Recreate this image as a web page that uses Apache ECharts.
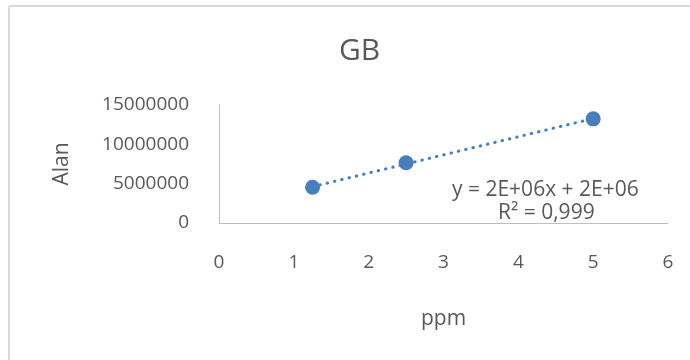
<!DOCTYPE html>
<html>
<head>
<meta charset="utf-8">
<script src="https://cdn.jsdelivr.net/npm/echarts@6/dist/echarts.min.js"></script>
<style>
  html, body { margin: 0; padding: 0; background: #fff; }
  #chart { width: 690px; height: 360px; }
</style>
</head>
<body>
<div id="chart"></div>
<script>
// values
const ppm = [1.25, 2.5, 5];
const alan = [4540000, 7650000, 13240000];
// ends of the dotted trend line (x, y) as drawn
const trendX = [1.25, 5];
const trendY = [4620000, 13280000];
const xTicks = [0, 1, 2, 3, 4, 5, 6];
const yTicks = [0, 5000000, 10000000, 15000000];
const equationText = "y = 2E+06x + 2E+06";
const r2Text = "R² = 0,999";

const textColor = "#595959";
const pointColor = "#4a7ebb";
const fontFamily = "'Open Sans', sans-serif";

const chart = echarts.init(document.getElementById("chart"), null, { renderer: "canvas" });

chart.setOption({
  backgroundColor: "#ffffff",
  animation: false,
  textStyle: { fontFamily },
  title: {
    text: "GB",
    left: 334,
    top: 31,
    textStyle: { color: textColor, fontSize: 30, fontWeight: "normal", fontFamily },
  },
  grid: {
    left: 219,
    right: 22,
    top: 105,
    bottom: 137,
    containLabel: false,
  },
  xAxis: {
    type: "value",
    min: xTicks[0],
    max: xTicks[xTicks.length - 1],
    interval: 1,
    name: "ppm",
    nameLocation: "middle",
    nameGap: 86,
    nameTextStyle: { color: textColor, fontSize: 21, fontFamily },
    axisLine: { show: true, onZero: false, lineStyle: { color: "#bfbfbf", width: 1 } },
    axisTick: { show: false },
    splitLine: { show: false },
    axisLabel: { color: textColor, fontSize: 19, margin: 30, fontFamily },
  },
  yAxis: {
    type: "value",
    min: yTicks[0],
    max: yTicks[yTicks.length - 1],
    interval: 5000000,
    name: "Alan",
    nameLocation: "middle",
    nameRotate: 90,
    nameGap: 146,
    nameTextStyle: { color: textColor, fontSize: 21, fontFamily },
    axisLine: { show: true, lineStyle: { color: "#bfbfbf", width: 1 } },
    axisTick: { show: false },
    splitLine: { show: false },
    axisLabel: {
      color: textColor,
      fontSize: 19,
      margin: 30,
      fontFamily,
      formatter: value => String(value),
    },
  },
  series: [
    {
      name: "trend",
      type: "line",
      data: trendX.map((x, i) => [x, trendY[i]]),
      symbol: "none",
      silent: true,
      lineStyle: { color: pointColor, width: 3, type: [0.5, 7], cap: "round" },
      z: 2,
    },
    {
      name: "Alan",
      type: "scatter",
      data: ppm.map((x, i) => [x, alan[i]]),
      symbolSize: 15,
      itemStyle: { color: pointColor, opacity: 1 },
      z: 3,
    },
  ],
  graphic: [
    {
      type: "line",
      shape: { x1: 9, y1: 6, x2: 690, y2: 6 },
      style: { stroke: "#d9d9d9", lineWidth: 2 },
      silent: true,
    },
    {
      type: "line",
      shape: { x1: 9, y1: 6, x2: 9, y2: 360 },
      style: { stroke: "#d9d9d9", lineWidth: 2 },
      silent: true,
    },
    {
      type: "text",
      left: 452,
      top: 180,
      style: { text: equationText, fill: textColor, font: `21px ${fontFamily}` },
      z: 10,
    },
    {
      type: "text",
      left: 498,
      top: 203,
      style: { text: r2Text, fill: textColor, font: `21px ${fontFamily}` },
      z: 10,
    },
  ],
});
</script>
</body>
</html>
